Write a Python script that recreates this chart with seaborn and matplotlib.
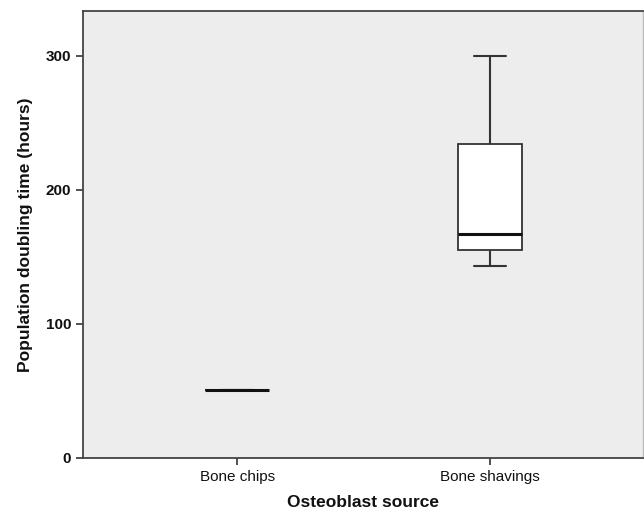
import pandas as pd
import numpy as np
import matplotlib
matplotlib.use("Agg")
import matplotlib.pyplot as plt
import seaborn as sns

# values (hours)
sources = ["Bone chips", "Bone shavings"]
chips_vals = [50.5, 50.5, 50.5]
shavings_vals = [143, 155, 167, 234, 300]
y_ticks = [0, 100, 200, 300]

df = pd.DataFrame({
    "source": [sources[0]] * len(chips_vals) + [sources[1]] * len(shavings_vals),
    "pdt": chips_vals + shavings_vals,
})

sns.set_style("white")
plt.rcParams['font.family'] = ['Liberation Sans', 'DejaVu Sans']
plt.rcParams['text.color'] = '#111111'
plt.rcParams['axes.labelcolor'] = '#111111'
plt.rcParams['xtick.labelcolor'] = '#111111'
plt.rcParams['ytick.labelcolor'] = '#111111'

fig = plt.figure(figsize=[6.44, 5.15], dpi=100)
ax = fig.add_axes([0.129, 0.111, 0.869, 0.868])
ax.set_facecolor("#ededed")

sns.boxplot(data=df, x="source", y="pdt", order=sources, ax=ax,
            width=0.253, whis=1.5, showfliers=False,
            boxprops=dict(facecolor="white", edgecolor="#333333", linewidth=1.3),
            whiskerprops=dict(color="#333333", linewidth=1.5),
            capprops=dict(color="#333333", linewidth=1.5),
            medianprops=dict(color="#111111", linewidth=2.2),
            capwidths=0.127)

ax.set_xlim(-0.61, 1.605)
ax.set_ylim(0, 333.5)
ax.set_yticks(y_ticks)
ax.set_yticklabels([str(t) for t in y_ticks], fontsize=11, fontweight="bold")
ax.set_xticks([0, 1])
ax.set_xticklabels(sources, fontsize=11)
ax.tick_params(axis="both", direction="out", length=5, width=1.2, color="#333333",
               left=True, bottom=True)

for side in ["left", "bottom", "top"]:
    ax.spines[side].set_color("#444444")
    ax.spines[side].set_linewidth(1.3)
ax.spines["right"].set_color("#bbbbbb")
ax.spines["right"].set_linewidth(1.0)

ax.set_xlabel("Osteoblast source", fontsize=12.5, fontweight="bold", labelpad=8)
ax.set_ylabel("Population doubling time (hours)", fontsize=12.5, fontweight="bold", labelpad=9)

fig.savefig("out.png", dpi=100)
